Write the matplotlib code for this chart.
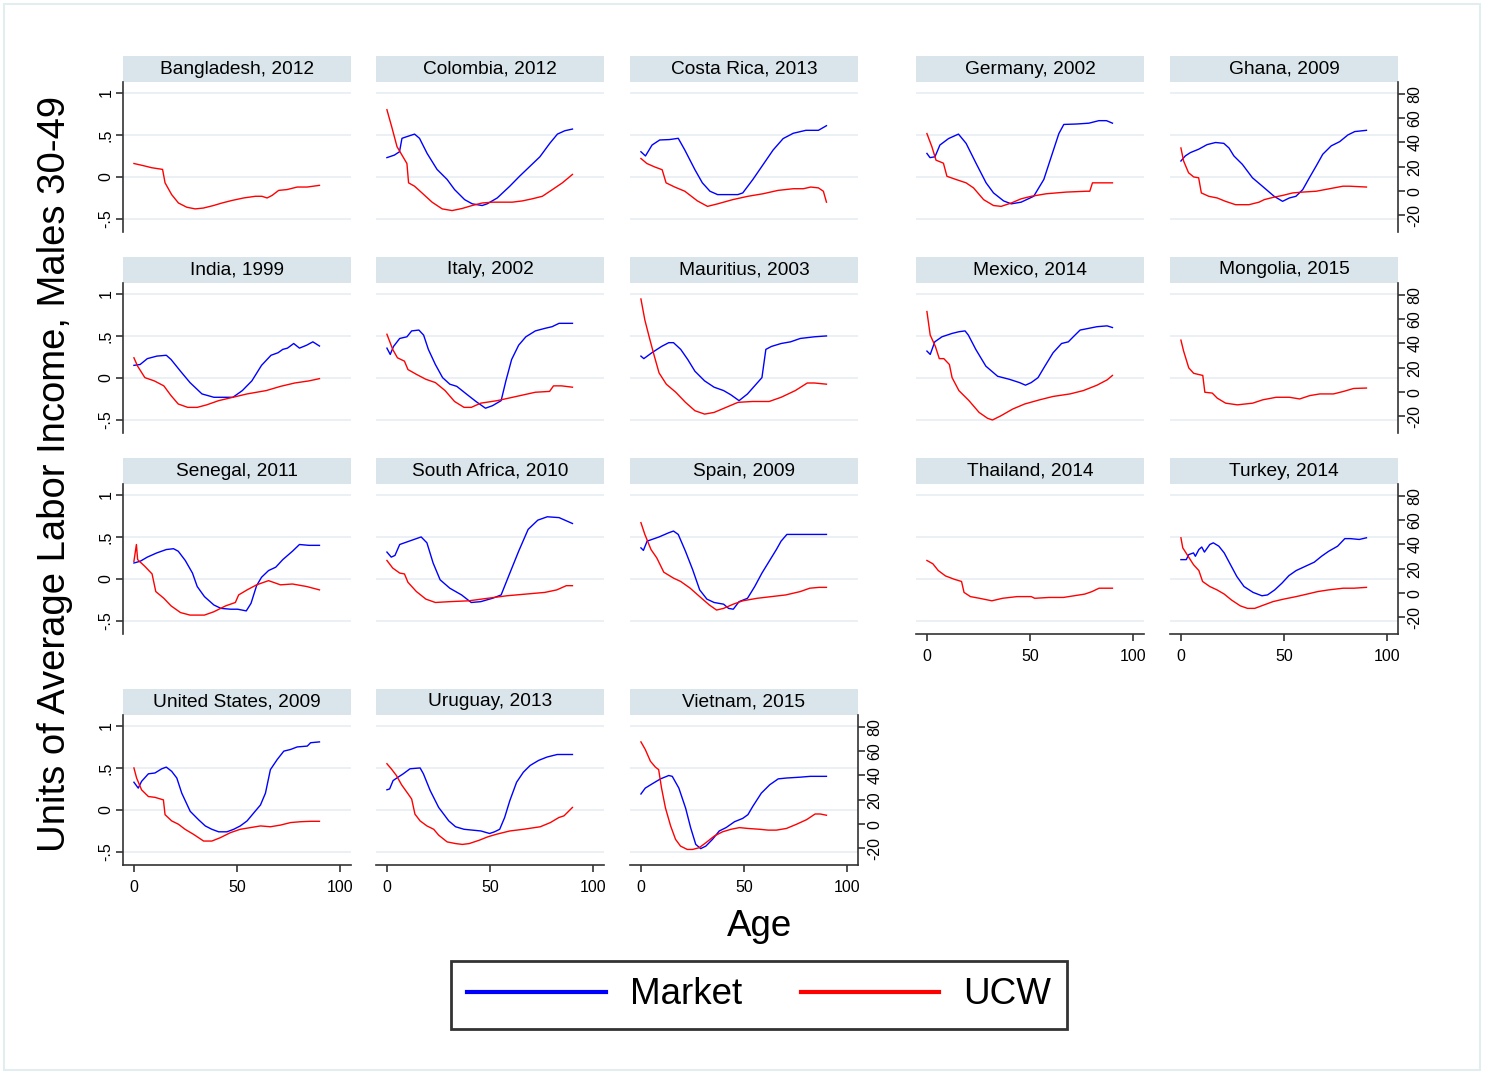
import matplotlib
matplotlib.use('Agg')
import matplotlib.pyplot as plt
from matplotlib.patches import Rectangle
from matplotlib.lines import Line2D

plt.rcParams['font.family'] = ['Liberation Sans', 'DejaVu Sans']

# ---- data (age, units of avg labor income) ----
bgd_ucw_age = [0, 4.5, 8.6, 13.9, 15.1, 18.3, 21.6, 25.6, 29.7, 33.7, 38.6, 42.7, 47.5, 53.2, 58.9, 62.1, 64.6, 67, 70.2, 74.3, 79.2, 84, 90]
bgd_ucw = [0.16, 0.135, 0.11, 0.09, -0.07, -0.21, -0.31, -0.36, -0.38, -0.37, -0.34, -0.31, -0.28, -0.25, -0.23, -0.23, -0.25, -0.22, -0.16, -0.15, -0.12, -0.12, -0.10]

col_mkt_age = [0, 3.6, 6.1, 7.3, 9.7, 13.4, 15.8, 19.5, 24.3, 29.2, 32.8, 37.7, 41.4, 46.2, 48.6, 53.5, 59.6, 64.4, 69.3, 74.2, 79, 82.7, 86.3, 90]
col_mkt = [0.23, 0.26, 0.30, 0.46, 0.48, 0.51, 0.46, 0.28, 0.09, -0.03, -0.15, -0.27, -0.32, -0.34, -0.32, -0.25, -0.11, 0.01, 0.125, 0.24, 0.40, 0.51, 0.55, 0.57]
col_ucw_age = [0, 2.4, 4.9, 7.3, 9.7, 10.5, 13.4, 17, 21.9, 26.8, 31.6, 36.5, 41.3, 46.2, 51.1, 55.9, 60.8, 65.7, 70.5, 75.4, 80.3, 85.1, 90]
col_ucw = [0.80, 0.59, 0.36, 0.26, 0.16, -0.07, -0.11, -0.19, -0.30, -0.38, -0.40, -0.375, -0.34, -0.31, -0.30, -0.30, -0.30, -0.285, -0.26, -0.23, -0.15, -0.07, 0.03]

cri_mkt_age = [0, 2.2, 5.4, 9.1, 13.9, 18.1, 21.3, 26.2, 29.8, 33.5, 37.2, 42.1, 47, 49.4, 54.3, 59.2, 64.1, 69, 73.9, 80, 86.1, 90]
cri_mkt = [0.30, 0.25, 0.38, 0.44, 0.445, 0.46, 0.32, 0.086, -0.07, -0.17, -0.21, -0.21, -0.21, -0.19, -0.03, 0.145, 0.32, 0.457, 0.52, 0.555, 0.555, 0.61]
cri_ucw_age = [0, 2.9, 6.6, 10.3, 12.2, 16.4, 21.3, 27.4, 32.3, 37.2, 44.5, 51.9, 59.2, 66.5, 73.9, 78.8, 82.4, 86.1, 88.5, 90]
cri_ucw = [0.22, 0.16, 0.12, 0.086, -0.07, -0.12, -0.17, -0.285, -0.35, -0.32, -0.27, -0.23, -0.20, -0.16, -0.14, -0.14, -0.12, -0.13, -0.17, -0.30]

deu_mkt_age = [0, 1.5, 3.9, 6.3, 10.5, 15.3, 19, 23.8, 28.7, 32.3, 37.2, 40.9, 45.7, 51.8, 56.7, 60.3, 64, 66.4, 72.5, 78.6, 83.4, 87.1, 90]
deu_mkt = [0.28, 0.23, 0.24, 0.38, 0.457, 0.51, 0.40, 0.164, -0.07, -0.19, -0.285, -0.32, -0.30, -0.23, -0.03, 0.24, 0.516, 0.625, 0.63, 0.64, 0.67, 0.67, 0.64]
deu_ucw_age = [0, 2.4, 4.4, 8, 9.7, 14.1, 19, 22.6, 27.5, 32.3, 36, 40.9, 45.7, 50.6, 57.9, 67.6, 77.3, 79, 80.3, 90]
deu_ucw = [0.516, 0.36, 0.20, 0.164, 0.008, -0.03, -0.07, -0.13, -0.27, -0.34, -0.35, -0.31, -0.26, -0.23, -0.20, -0.18, -0.17, -0.17, -0.07, -0.07]

gha_mkt_age = [0, 2.1, 4.6, 8.6, 12.7, 16.8, 20.8, 23.3, 25.7, 29.8, 34.7, 39.5, 45.2, 49.3, 52.6, 55.8, 59.1, 62.3, 65.6, 68.8, 72.9, 77, 81, 84.3, 90]
gha_mkt = [0.19, 0.25, 0.29, 0.33, 0.385, 0.41, 0.40, 0.345, 0.25, 0.15, -0.01, -0.11, -0.23, -0.29, -0.25, -0.23, -0.15, -0.01, 0.13, 0.27, 0.37, 0.42, 0.50, 0.54, 0.555]
gha_ucw_age = [0, 1.3, 3.7, 6.2, 8.6, 9.9, 13.5, 17.6, 21.6, 26.5, 33, 37.9, 40.4, 45.2, 49.3, 54.2, 59.1, 65.6, 72.1, 78.6, 81.8, 90]
gha_ucw = [0.345, 0.19, 0.05, 0.0, -0.01, -0.19, -0.23, -0.25, -0.29, -0.33, -0.33, -0.30, -0.27, -0.24, -0.22, -0.19, -0.18, -0.17, -0.14, -0.11, -0.11, -0.12]

ind_mkt_age = [0, 3, 6.5, 11.1, 15.7, 18, 22.6, 27.2, 33, 38.8, 43.4, 48, 52.6, 57.2, 61.9, 66.5, 69.9, 72.2, 74.5, 77.5, 80.3, 83.8, 86.8, 90]
ind_mkt = [0.15, 0.16, 0.23, 0.26, 0.27, 0.22, 0.08, -0.055, -0.19, -0.23, -0.23, -0.23, -0.15, -0.035, 0.15, 0.27, 0.30, 0.34, 0.355, 0.41, 0.355, 0.39, 0.43, 0.38]
ind_ucw_age = [0, 1.8, 5.3, 9.9, 14.5, 18, 21.5, 26.1, 30.7, 35.3, 41.1, 48, 54.9, 64.2, 71.1, 78, 84.9, 90]
ind_ucw = [0.24, 0.14, 0.004, -0.035, -0.094, -0.21, -0.31, -0.35, -0.35, -0.32, -0.27, -0.23, -0.19, -0.15, -0.10, -0.06, -0.035, -0.008]

ita_mkt_age = [0, 1.6, 3.2, 6.2, 9.7, 12, 15.5, 17.8, 20.1, 23.5, 27, 30.5, 33.9, 38.5, 43.2, 47.8, 51.2, 55.4, 57.7, 60.5, 63.9, 67.4, 72, 76.6, 80.1, 83.5, 90]
ita_mkt = [0.355, 0.28, 0.375, 0.47, 0.49, 0.56, 0.57, 0.51, 0.34, 0.16, 0.004, -0.074, -0.10, -0.19, -0.28, -0.36, -0.33, -0.27, -0.035, 0.22, 0.39, 0.49, 0.56, 0.59, 0.61, 0.65, 0.65]
ita_ucw_age = [0, 2.8, 5.1, 8.5, 10.2, 14.3, 18.9, 23.5, 28.2, 32.8, 37.4, 40.9, 45.5, 53.5, 62.8, 72, 78.9, 80.8, 84.7, 90]
ita_ucw = [0.52, 0.34, 0.24, 0.20, 0.10, 0.043, -0.016, -0.055, -0.15, -0.28, -0.35, -0.35, -0.30, -0.27, -0.22, -0.17, -0.16, -0.094, -0.094, -0.11]

mus_mkt_age = [0, 1.4, 5.3, 10, 13.5, 15.8, 19.3, 22.7, 26.2, 30.9, 35.5, 40.1, 43.6, 47.6, 51.7, 58.7, 60.6, 63.3, 68, 72.6, 77.3, 84.2, 90]
mus_mkt = [0.26, 0.23, 0.30, 0.375, 0.42, 0.42, 0.34, 0.22, 0.08, -0.035, -0.11, -0.15, -0.20, -0.27, -0.19, 0.004, 0.34, 0.375, 0.41, 0.43, 0.47, 0.49, 0.50]
mus_ucw_age = [0, 1.9, 4.2, 6.5, 8.8, 12.3, 16.9, 21.6, 26.2, 30.9, 35.5, 41.3, 47.1, 54.1, 62.2, 68, 74.9, 80.7, 84.2, 90]
mus_ucw = [0.94, 0.69, 0.47, 0.26, 0.06, -0.074, -0.17, -0.29, -0.39, -0.43, -0.41, -0.35, -0.29, -0.28, -0.28, -0.23, -0.15, -0.06, -0.06, -0.074]

mex_mkt_age = [0, 1.6, 3.8, 7.3, 12.2, 15.5, 18.5, 20.1, 23.7, 28.6, 34.3, 40, 44.9, 47.8, 50.6, 53.9, 57.2, 61.2, 65.3, 68.6, 71, 74.3, 78.4, 82.5, 87.4, 90]
mex_mkt = [0.32, 0.28, 0.43, 0.49, 0.53, 0.55, 0.56, 0.51, 0.34, 0.14, 0.02, -0.016, -0.055, -0.086, -0.055, 0.004, 0.14, 0.30, 0.41, 0.43, 0.49, 0.57, 0.59, 0.61, 0.62, 0.60]
mex_ucw_age = [0, 1.6, 4.1, 6, 8.2, 10.9, 12.2, 15.5, 20.4, 25.3, 29.4, 31.8, 35.9, 41.6, 47.4, 54.7, 61.2, 69.4, 75.9, 82.5, 87.4, 90]
mex_ucw = [0.79, 0.51, 0.375, 0.23, 0.23, 0.16, 0.004, -0.15, -0.27, -0.41, -0.48, -0.50, -0.45, -0.37, -0.31, -0.26, -0.22, -0.19, -0.15, -0.086, -0.023, 0.03]

mng_ucw_age = [0, 1.3, 3.8, 6.2, 10.6, 11.6, 15.2, 17.6, 21.7, 27.4, 34.8, 39.7, 46.2, 52.7, 57.6, 62.5, 67.4, 74, 78.9, 83.8, 90]
mng_ucw = [0.45, 0.32, 0.12, 0.055, 0.03, -0.17, -0.18, -0.24, -0.30, -0.32, -0.30, -0.26, -0.23, -0.23, -0.25, -0.21, -0.19, -0.19, -0.16, -0.125, -0.12]

sen_mkt_age = [0, 3, 6.5, 11.1, 15.7, 19.2, 21.5, 24.9, 28.4, 30.7, 34.2, 38.8, 42.2, 46.9, 50.3, 54.5, 56.8, 59.5, 61.9, 65.3, 68.8, 72.2, 76.9, 80.3, 84.9, 90]
sen_mkt = [0.19, 0.21, 0.26, 0.31, 0.35, 0.36, 0.33, 0.22, 0.07, -0.09, -0.21, -0.31, -0.35, -0.36, -0.36, -0.38, -0.29, -0.08, 0.02, 0.10, 0.14, 0.23, 0.33, 0.41, 0.40, 0.40]
sen_ucw_age = [0, 1.2, 1.8, 5.3, 8.8, 10.6, 14.5, 18, 22.6, 27.2, 34.2, 38.8, 44.5, 49.2, 50.8, 54.9, 59.5, 65.3, 71.1, 76.9, 83.8, 90]
sen_ucw = [0.21, 0.41, 0.23, 0.15, 0.06, -0.15, -0.23, -0.32, -0.40, -0.43, -0.43, -0.39, -0.32, -0.28, -0.19, -0.13, -0.07, -0.02, -0.07, -0.06, -0.09, -0.13]

zaf_mkt_age = [0, 2.1, 3.9, 6.2, 10.8, 16.6, 19.4, 22.4, 25.8, 30.5, 36.2, 40.9, 45.5, 51.2, 55.4, 59.3, 63.9, 68.5, 73.2, 77.8, 83.5, 90]
zaf_mkt = [0.32, 0.26, 0.28, 0.41, 0.45, 0.50, 0.43, 0.19, -0.01, -0.11, -0.19, -0.28, -0.27, -0.23, -0.19, 0.05, 0.33, 0.59, 0.70, 0.74, 0.73, 0.66]
zaf_ucw_age = [0, 2.8, 6.2, 8.5, 10.2, 14.3, 18.9, 23.5, 30.5, 39.7, 48.9, 58.2, 67.4, 76.6, 82.4, 87, 90]
zaf_ucw = [0.22, 0.13, 0.07, 0.06, -0.04, -0.15, -0.24, -0.28, -0.27, -0.26, -0.23, -0.20, -0.18, -0.16, -0.13, -0.08, -0.08]

esp_mkt_age = [0, 1.2, 3, 8.8, 13.5, 15.8, 18.1, 21.6, 25.1, 28.5, 32, 35.5, 40.1, 42.5, 44.8, 47.6, 51.7, 55.2, 58.7, 62.2, 65.7, 68, 70.8, 77.3, 84.2, 90]
esp_mkt = [0.37, 0.34, 0.45, 0.50, 0.55, 0.57, 0.53, 0.33, 0.11, -0.13, -0.24, -0.28, -0.30, -0.35, -0.36, -0.27, -0.23, -0.09, 0.07, 0.21, 0.35, 0.45, 0.53, 0.53, 0.53, 0.53]
esp_ucw_age = [0, 1.9, 4.9, 7.7, 11.1, 15.8, 19.3, 23.9, 28.5, 33.2, 36.7, 40.1, 44.8, 49.4, 56.4, 63.3, 70.3, 77.3, 81.9, 86.5, 90]
esp_ucw = [0.67, 0.53, 0.35, 0.25, 0.08, 0.01, -0.03, -0.11, -0.21, -0.31, -0.37, -0.35, -0.30, -0.26, -0.23, -0.21, -0.19, -0.15, -0.11, -0.10, -0.10]

tha_ucw_age = [0, 2.9, 5.5, 9, 13.3, 16.8, 18, 21.1, 25.5, 31.5, 36.7, 43.7, 50.6, 52.3, 59.3, 66.2, 71.4, 76.6, 80.1, 83.5, 90]
tha_ucw = [0.22, 0.18, 0.10, 0.036, -0.004, -0.03, -0.16, -0.21, -0.23, -0.26, -0.23, -0.21, -0.21, -0.23, -0.22, -0.22, -0.20, -0.18, -0.15, -0.11, -0.11]

tur_mkt_age = [0, 2.6, 3.8, 6.1, 7, 8.7, 10.1, 11.4, 14, 15.7, 18.4, 21, 23.6, 27.1, 30.6, 35, 39.3, 42, 45.5, 49, 52.4, 55.9, 60.3, 64.7, 68.2, 71.7, 76, 79.5, 82.2, 86.5, 90]
tur_mkt = [0.23, 0.23, 0.29, 0.31, 0.27, 0.35, 0.38, 0.32, 0.41, 0.43, 0.39, 0.31, 0.19, 0.03, -0.09, -0.16, -0.20, -0.19, -0.13, -0.05, 0.04, 0.10, 0.15, 0.20, 0.27, 0.33, 0.39, 0.48, 0.48, 0.47, 0.49]
tur_ucw_age = [0, 0.9, 3.5, 6.1, 8.7, 10.5, 14, 17.5, 21, 24.5, 28.8, 32.3, 35.8, 40.2, 44.6, 49.8, 55.9, 61.2, 66.4, 71.7, 78.7, 83.9, 90]
tur_ucw = [0.49, 0.37, 0.27, 0.17, 0.10, -0.03, -0.09, -0.13, -0.18, -0.25, -0.32, -0.35, -0.35, -0.31, -0.27, -0.24, -0.21, -0.18, -0.15, -0.13, -0.11, -0.11, -0.10]

usa_mkt_age = [0, 2.1, 3.7, 7, 10.2, 13.5, 15.7, 18.3, 20.8, 23.2, 27.3, 31.3, 34.6, 37.8, 41.1, 45.1, 48.4, 51.6, 54.9, 58.1, 61.4, 63.8, 66.2, 69.5, 72.7, 76, 79.2, 84.1, 85.7, 90]
usa_mkt = [0.33, 0.26, 0.34, 0.43, 0.44, 0.49, 0.51, 0.46, 0.38, 0.20, -0.016, -0.115, -0.19, -0.23, -0.26, -0.26, -0.23, -0.19, -0.13, -0.036, 0.06, 0.20, 0.48, 0.60, 0.70, 0.72, 0.75, 0.76, 0.80, 0.81]
usa_ucw_age = [0, 1.3, 3.7, 7, 10.2, 14.3, 15.1, 18.3, 21.6, 24.8, 28.9, 33.8, 37.8, 41.9, 46.8, 51.6, 56.5, 61.4, 66.2, 71.1, 76, 80.8, 85.7, 90]
usa_ucw = [0.50, 0.38, 0.24, 0.16, 0.15, 0.12, -0.056, -0.13, -0.17, -0.23, -0.29, -0.37, -0.37, -0.33, -0.27, -0.23, -0.21, -0.19, -0.20, -0.18, -0.15, -0.14, -0.135, -0.135]

ury_mkt_age = [0, 1.3, 3, 5.4, 7.9, 11.2, 16.1, 17.7, 21, 25.1, 30, 33.3, 37.4, 41.5, 45.6, 49.8, 52.2, 54.7, 57.1, 59.6, 62.9, 66.2, 69.5, 73.6, 77.7, 82.6, 90]
ury_mkt = [0.24, 0.25, 0.35, 0.39, 0.43, 0.49, 0.50, 0.43, 0.23, 0.03, -0.13, -0.20, -0.23, -0.24, -0.25, -0.28, -0.26, -0.23, -0.09, 0.11, 0.33, 0.45, 0.53, 0.59, 0.63, 0.66, 0.66]
ury_ucw_age = [0, 2.1, 4.6, 7.1, 10.3, 12, 13.6, 16.1, 19.4, 22.7, 25.1, 29.2, 33.3, 36.6, 39.9, 44.8, 48.9, 53, 59.6, 66.2, 74.4, 79.3, 83.4, 85.9, 90]
ury_ucw = [0.55, 0.49, 0.41, 0.30, 0.19, 0.13, -0.05, -0.13, -0.19, -0.23, -0.30, -0.38, -0.40, -0.41, -0.40, -0.36, -0.32, -0.29, -0.25, -0.23, -0.20, -0.15, -0.09, -0.07, 0.03]

vnm_mkt_age = [0, 2.1, 5.4, 9.5, 13.5, 15.2, 18.4, 21.7, 24.1, 26.6, 29, 31.5, 34.7, 38, 41.3, 45.4, 49.4, 51.9, 54.3, 58.4, 62.5, 66.6, 70.6, 77.2, 82.1, 90]
vnm_mkt = [0.19, 0.26, 0.31, 0.37, 0.41, 0.40, 0.26, 0.02, -0.21, -0.41, -0.46, -0.43, -0.35, -0.25, -0.21, -0.14, -0.10, -0.056, 0.044, 0.20, 0.30, 0.37, 0.38, 0.39, 0.40, 0.40]
vnm_ucw_age = [0, 2.1, 4.6, 7, 8.6, 10, 11.9, 14.4, 16.8, 19.2, 22.5, 25, 28.2, 31.5, 35.6, 39.6, 43.7, 47.8, 51.9, 57.6, 61.7, 65.7, 70.6, 75.5, 80.4, 84.5, 87, 90]
vnm_ucw = [0.81, 0.72, 0.58, 0.51, 0.48, 0.26, 0.024, -0.19, -0.35, -0.43, -0.47, -0.47, -0.45, -0.39, -0.31, -0.26, -0.23, -0.21, -0.22, -0.23, -0.24, -0.24, -0.22, -0.17, -0.115, -0.048, -0.048, -0.063]

titles = ["Bangladesh, 2012", "Colombia, 2012", "Costa Rica, 2013", "Germany, 2002", "Ghana, 2009",
          "India, 1999", "Italy, 2002", "Mauritius, 2003", "Mexico, 2014", "Mongolia, 2015",
          "Senegal, 2011", "South Africa, 2010", "Spain, 2009", "Thailand, 2014", "Turkey, 2014",
          "United States, 2009", "Uruguay, 2013", "Vietnam, 2015"]
market = [None, (col_mkt_age, col_mkt), (cri_mkt_age, cri_mkt), (deu_mkt_age, deu_mkt), (gha_mkt_age, gha_mkt),
          (ind_mkt_age, ind_mkt), (ita_mkt_age, ita_mkt), (mus_mkt_age, mus_mkt), (mex_mkt_age, mex_mkt), None,
          (sen_mkt_age, sen_mkt), (zaf_mkt_age, zaf_mkt), (esp_mkt_age, esp_mkt), None, (tur_mkt_age, tur_mkt),
          (usa_mkt_age, usa_mkt), (ury_mkt_age, ury_mkt), (vnm_mkt_age, vnm_mkt)]
ucw = [(bgd_ucw_age, bgd_ucw), (col_ucw_age, col_ucw), (cri_ucw_age, cri_ucw), (deu_ucw_age, deu_ucw), (gha_ucw_age, gha_ucw),
       (ind_ucw_age, ind_ucw), (ita_ucw_age, ita_ucw), (mus_ucw_age, mus_ucw), (mex_ucw_age, mex_ucw), (mng_ucw_age, mng_ucw),
       (sen_ucw_age, sen_ucw), (zaf_ucw_age, zaf_ucw), (esp_ucw_age, esp_ucw), (tha_ucw_age, tha_ucw), (tur_ucw_age, tur_ucw),
       (usa_ucw_age, usa_ucw), (ury_ucw_age, ury_ucw), (vnm_ucw_age, vnm_ucw)]

left_ticks = [-0.5, 0, 0.5, 1]
left_labels = ['-.5', '0', '.5', '1']
right_ticks = [-20, 0, 20, 40, 60, 80]

# ---- layout (pixels) ----
W, H = 1489, 1073
col_x = [123, 376, 630, 916, 1170]
row_y = [82, 283, 484, 715]
pw, ph, th = 228, 150, 26
YLIM = (-0.655, 1.13)
XLIM = (-5.3, 105.3)
STRIP = '#d9e5ea'
GRID = '#e6eef1'
AXC = '#333333'


def to_right(v):
    return (v + 0.168) * 69.0


fig = plt.figure(figsize=(W / 100, H / 100), dpi=100)

for i, title in enumerate(titles):
    row, col = divmod(i, 5)
    x0, y0 = col_x[col], row_y[row]
    rect = [x0 / W, 1 - (y0 + ph) / H, pw / W, ph / H]

    left = col == 0
    bottom = row == 3 or (row == 2 and col >= 3)
    right = (col == 4 and row < 3) or (row == 3 and col == 2)

    ax = fig.add_axes(rect)
    ax.set_xlim(*XLIM)
    ax.set_ylim(*YLIM)
    for s in ax.spines.values():
        s.set_visible(False)

    # horizontal gridlines drawn as plain lines
    for g in left_ticks:
        ax.axhline(g, color=GRID, lw=1.2, zorder=0)

    if market[i] is not None:
        ax.plot(market[i][0], market[i][1], color='blue', lw=1.0)
    ax.plot(ucw[i][0], ucw[i][1], color='red', lw=1.0)

    if left:
        ax.set_yticks(left_ticks)
        ax.spines['left'].set_visible(True)
        ax.spines['left'].set_color(AXC)
        ax.spines['left'].set_linewidth(1.2)
        ax.set_yticklabels(left_labels, rotation=90, va='center')
        ax.tick_params(axis='y', length=5, width=1.2, color=AXC, labelsize=11.5, pad=2)
    else:
        ax.set_yticks([])
        ax.yaxis.set_ticks_position('none')

    if bottom:
        ax.spines['bottom'].set_visible(True)
        ax.spines['bottom'].set_color(AXC)
        ax.spines['bottom'].set_linewidth(1.2)
        ax.set_xticks([0, 50, 100])
        ax.tick_params(axis='x', length=5, width=1.2, color=AXC, labelsize=11.5, pad=6)
    else:
        ax.set_xticks([])

    # right-hand scale on its own transparent axes
    if right:
        axr = fig.add_axes(rect, label='right%d' % i)
        axr.patch.set_visible(False)
        axr.set_ylim(to_right(YLIM[0]), to_right(YLIM[1]))
        axr.set_xticks([])
        axr.xaxis.set_ticks_position('none')
        for s in axr.spines.values():
            s.set_visible(False)
        axr.spines['right'].set_visible(True)
        axr.spines['right'].set_color(AXC)
        axr.spines['right'].set_linewidth(1.2)
        axr.yaxis.set_ticks_position('right')
        axr.set_yticks(right_ticks)
        axr.set_yticklabels([str(t) for t in right_ticks], rotation=90, va='center')
        axr.tick_params(axis='y', length=5, width=1.2, color=AXC, labelsize=11.5, pad=2)
        for t in axr.yaxis.get_major_ticks():
            t.tick1line.set_visible(False)
            t.label1.set_visible(False)

    ax.add_patch(Rectangle((0, 1), 1, th / ph, transform=ax.transAxes, clip_on=False,
                           facecolor=STRIP, edgecolor='none'))
    ax.text(0.5, 1 + th / ph / 2, title, transform=ax.transAxes, ha='center', va='center',
            fontsize=13.8)

fig.text(55 / W, 1 - 474 / H, 'Units of Average Labor Income, Males 30-49', rotation=90,
         fontsize=27.5, ha='center', va='center')
fig.text(760 / W, 1 - 926 / H, 'Age', fontsize=26.5, ha='center', va='center')

handles = [Line2D([], [], color='blue', lw=3), Line2D([], [], color='red', lw=3)]
leg = fig.legend(handles, ['Market', 'UCW'], loc='center', bbox_to_anchor=(759 / W, 1 - 995 / H),
                 ncol=2, fontsize=26.5, frameon=True, fancybox=False, edgecolor='black',
                 handlelength=3.76, handletextpad=0.65, columnspacing=1.6, borderpad=0.45)
leg.get_frame().set_linewidth(2)

fig.add_artist(Rectangle((4 / W, 3 / H), 1476 / W, 1066 / H, transform=fig.transFigure,
                         fill=False, edgecolor='#e3ecef', lw=1.5))

fig.savefig('out.png', dpi=100)
